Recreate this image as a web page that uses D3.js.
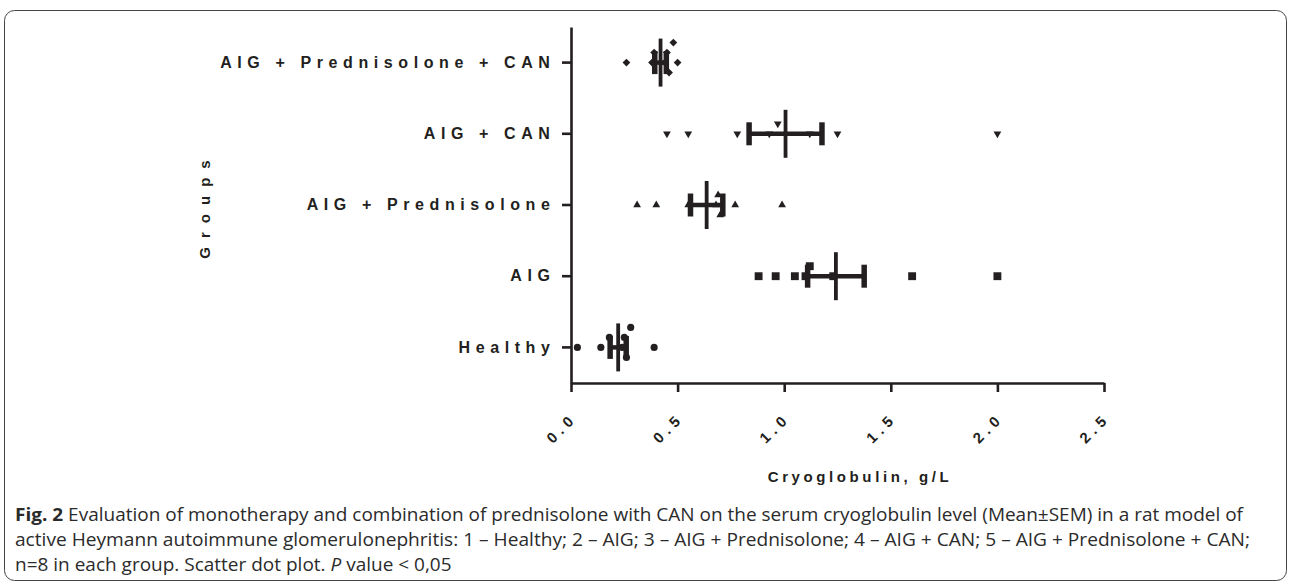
<!DOCTYPE html>
<html>
<head>
<meta charset="utf-8">
<script src="https://cdn.jsdelivr.net/npm/d3@7"></script>
<style>
  html, body { margin: 0; padding: 0; background: #fff; }
  svg { display: block; }
</style>
</head>
<body>
<svg id="chart" width="1290" height="586"></svg>
<script>
// ---------------- data ----------------
const categories = ["AIG + Prednisolone + CAN", "AIG + CAN", "AIG + Prednisolone", "AIG", "Healthy"];
const healthy    = [0.03, 0.14, 0.18, 0.24, 0.25, 0.26, 0.28, 0.39];
const aig        = [0.88, 0.96, 1.05, 1.10, 1.12, 1.23, 1.60, 2.00];
const aigPred    = [0.31, 0.40, 0.55, 0.68, 0.69, 0.70, 0.77, 0.99];
const aigCan     = [0.45, 0.55, 0.78, 0.93, 0.97, 1.12, 1.25, 2.00];
const aigPredCan = [0.26, 0.38, 0.39, 0.44, 0.45, 0.46, 0.48, 0.50];
const xTicks = [0, 0.5, 1.0, 1.5, 2.0, 2.5];
const xTickLabels = ["0.0", "0.5", "1.0", "1.5", "2.0", "2.5"];
const xTitle = "Cryoglobulin, g/L";
const yTitle = "Groups";
const captionBold = "Fig. 2";
const captionLine1 = " Evaluation of monotherapy and combination of prednisolone with CAN on the serum cryoglobulin level (Mean±SEM) in a rat model of";
const captionLine2 = "active Heymann autoimmune glomerulonephritis: 1 – Healthy; 2 – AIG; 3 – AIG + Prednisolone; 4 – AIG + CAN; 5 – AIG + Prednisolone + CAN;";
const captionLine3a = "n=8 in each group. Scatter dot plot. ";
const captionLine3b = "P";
const captionLine3c = " value < 0,05";

const groups = [
  { name: "AIG + Prednisolone + CAN", values: aigPredCan, shape: "diamond" },
  { name: "AIG + CAN", values: aigCan, shape: "triangleDown" },
  { name: "AIG + Prednisolone", values: aigPred, shape: "triangleUp" },
  { name: "AIG", values: aig, shape: "square" },
  { name: "Healthy", values: healthy, shape: "circle" }
];

// ---------------- layout ----------------
const INK = "#231f20";
const svg = d3.select("#chart");

// frame
svg.append("rect")
  .attr("x", 4.5).attr("y", 10.5).attr("width", 1282).attr("height", 570)
  .attr("rx", 10).attr("ry", 10)
  .attr("fill", "none").attr("stroke", "#444").attr("stroke-width", 1);

const x = d3.scaleLinear().domain([0, 2.5]).range([571, 1104]);
const y = d3.scaleBand().domain(categories).range([27, 383]);
const yc = c => y(c) + y.bandwidth() / 2;

const symbolGen = {
  circle: d3.symbol().type(d3.symbolCircle).size(40),
  square: d3.symbol().type(d3.symbolSquare).size(62),
  triangleUp: d3.symbol().type(d3.symbolTriangle).size(26),
  triangleDown: d3.symbol().type(d3.symbolTriangle).size(26),
  diamond: d3.symbol().type(d3.symbolSquare).size(30)
};
const symbolRot = { circle: 0, square: 0, triangleUp: 0, triangleDown: 180, diamond: 45 };

// simple deterministic swarm offsets so overlapping points spread vertically
function swarm(values) {
  const sorted = values.map((v, i) => ({ v, i, px: x(v) })).sort((a, b) => a.v - b.v);
  const placed = [];
  const step = 10, dmin = 9;
  sorted.forEach(p => {
    const cands = [0, -1, 1, -2, 2, -3, 3].map(k => k * step);
    for (const dy of cands) {
      const ok = placed.every(q => Math.hypot(q.px - p.px, q.dy - dy) >= dmin);
      if (ok) { p.dy = dy; break; }
    }
    if (p.dy === undefined) p.dy = 0;
    placed.push(p);
  });
  return sorted;
}

// axes
const xAxis = d3.axisBottom(x).tickValues(xTicks)
  .tickFormat((d, i) => xTickLabels[i]).tickSize(9).tickSizeOuter(0);
const gx = svg.append("g").attr("transform", "translate(0,383)").call(xAxis);
gx.select(".domain").attr("stroke", INK).attr("stroke-width", 2.6);
gx.selectAll(".tick line").attr("stroke", INK).attr("stroke-width", 2.6);
gx.selectAll(".tick text")
  .attr("fill", INK)
  .attr("font-family", "'Liberation Sans', Arial, sans-serif")
  .attr("font-weight", "bold")
  .attr("font-size", 15)
  .attr("letter-spacing", 5)
  .attr("text-anchor", "end")
  .attr("x", 0).attr("y", 0).attr("dy", 0)
  .attr("transform", "translate(6.5,36) rotate(-45)");

const yAxis = d3.axisLeft(y).tickSize(9).tickSizeOuter(0).tickPadding(6.5);
const gy = svg.append("g").attr("transform", "translate(571,0)").call(yAxis);
gy.select(".domain").attr("stroke", INK).attr("stroke-width", 2.6);
gy.selectAll(".tick line").attr("stroke", INK).attr("stroke-width", 2.6);
gy.selectAll(".tick text")
  .attr("fill", INK)
  .attr("font-family", "'Liberation Sans', Arial, sans-serif")
  .attr("font-weight", "bold")
  .attr("font-size", 16)
  .attr("letter-spacing", 5.6);

// axis titles
svg.append("text")
  .attr("x", 860).attr("y", 482)
  .attr("text-anchor", "middle")
  .attr("fill", INK)
  .attr("font-family", "'Liberation Sans', Arial, sans-serif")
  .attr("font-weight", "bold").attr("font-size", 15)
  .attr("letter-spacing", 3.6)
  .text(xTitle);

svg.append("text")
  .attr("transform", `translate(210,${(27 + 383) / 2}) rotate(-90)`)
  .attr("text-anchor", "middle")
  .attr("fill", INK)
  .attr("font-family", "'Liberation Sans', Arial, sans-serif")
  .attr("font-weight", "bold").attr("font-size", 15)
  .attr("letter-spacing", 9)
  .text(yTitle);

// points
groups.forEach(g => {
  const pts = swarm(g.values);
  svg.append("g").selectAll("path").data(pts).join("path")
    .attr("d", symbolGen[g.shape])
    .attr("fill", INK)
    .attr("transform", d => `translate(${d.px},${yc(g.name) + d.dy}) rotate(${symbolRot[g.shape]})`);
});

// mean ± SEM
groups.forEach(g => {
  const m = d3.mean(g.values);
  const sem = d3.deviation(g.values) / Math.sqrt(g.values.length);
  const cy = yc(g.name);
  const eg = svg.append("g").attr("stroke", INK);
  eg.append("line").attr("x1", x(m - sem)).attr("x2", x(m + sem))
    .attr("y1", cy).attr("y2", cy).attr("stroke-width", 4.5);
  [m - sem, m + sem].forEach(v => {
    eg.append("line").attr("x1", x(v)).attr("x2", x(v))
      .attr("y1", cy - 11.5).attr("y2", cy + 11.5).attr("stroke-width", 5.5);
  });
  eg.append("line").attr("x1", x(m)).attr("x2", x(m))
    .attr("y1", cy - 24).attr("y2", cy + 24).attr("stroke-width", 3.8);
});

// caption
const capFont = "'Open Sans', 'Noto Sans', sans-serif";
const capSize = 18;
function capText(yy) {
  return svg.append("text").attr("x", 15).attr("y", yy)
    .attr("fill", "#2b2b2b").attr("font-family", capFont).attr("font-size", capSize);
}
const c1 = capText(521);
c1.append("tspan").attr("font-weight", "bold").text(captionBold);
c1.append("tspan").text(captionLine1);
const c2 = capText(546);
c2.append("tspan").text(captionLine2);
const c3 = capText(571);
c3.append("tspan").text(captionLine3a);
c3.append("tspan").attr("font-style", "italic").text(captionLine3b);
c3.append("tspan").text(captionLine3c);

const w1 = c1.node().getComputedTextLength();
const ratio = (1243 - 15) / w1;
c1.attr("textLength", w1 * ratio).attr("lengthAdjust", "spacingAndGlyphs");
c2.attr("textLength", (1250 - 15)).attr("lengthAdjust", "spacingAndGlyphs");
const w3 = c3.node().getComputedTextLength();
c3.attr("textLength", w3 * ratio).attr("lengthAdjust", "spacingAndGlyphs");
</script>
</body>
</html>
